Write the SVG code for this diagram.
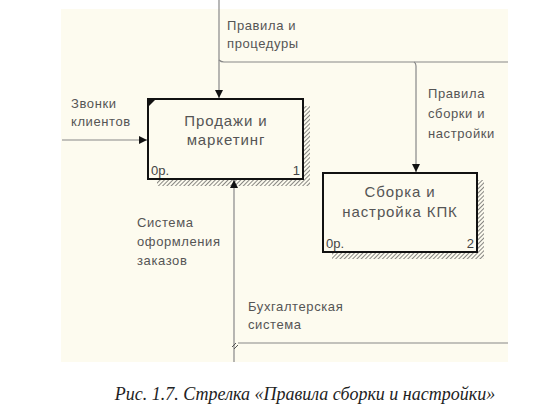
<svg xmlns="http://www.w3.org/2000/svg" width="560" height="415" viewBox="0 0 560 415">
<defs>
<pattern id="hatch" width="3" height="3" patternUnits="userSpaceOnUse" patternTransform="rotate(45)">
<rect width="3" height="3" fill="#fdfbef"/>
<line x1="0" y1="0" x2="0" y2="3" stroke="#555" stroke-width="1.4"/>
</pattern>
<marker id="arr" viewBox="0 0 8 8" refX="8" refY="4" markerWidth="8" markerHeight="8" markerUnits="userSpaceOnUse" orient="auto">
<path d="M0,0 L8,4 L0,8 Z" fill="#111"/>
</marker>
<style>
.lbl{font-family:"Liberation Sans",Arial,sans-serif;font-size:13px;letter-spacing:0.6px;fill:#555}
.btxt{font-family:"Liberation Sans",Arial,sans-serif;font-size:15px;letter-spacing:0.9px;fill:#555;text-anchor:middle}
.num{font-family:"Liberation Sans",Arial,sans-serif;font-size:13px;fill:#444}
.box{fill:#fdfbef;stroke:#111;stroke-width:2}
.shadow{fill:url(#hatch)}
.con{fill:none;stroke:#888;stroke-width:1.2}
</style>
</defs>
<rect x="0" y="0" width="560" height="415" fill="#ffffff"/>
<rect x="61" y="9" width="447" height="353" fill="#fdfbef"/>

<g id="node1">
<rect class="shadow" x="304" y="106" width="6" height="80"/>
<rect class="shadow" x="157" y="180" width="153" height="6"/>
<rect class="box" x="148" y="99" width="155" height="80"/>
<path d="M149,100 L155,100 L149,106 Z" fill="#111"/>
<text class="btxt" x="226" y="126">Продажи и</text>
<text class="btxt" x="226" y="145">маркетинг</text>
<text class="num" x="151" y="175">0р.</text>
<text class="num" x="300" y="175" text-anchor="end">1</text>
</g>

<g id="node2">
<rect class="shadow" x="478" y="180" width="6" height="79"/>
<rect class="shadow" x="332" y="253" width="152" height="6"/>
<rect class="box" x="323" y="173" width="154" height="79"/>
<text class="btxt" x="400" y="197">Сборка и</text>
<text class="btxt" x="400" y="217">настройка КПК</text>
<text class="num" x="326" y="248">0р.</text>
<text class="num" x="474" y="248" text-anchor="end">2</text>
</g>

<g id="connectors">
<path class="con" d="M219,0 V98" marker-end="url(#arr)"/>
<path class="con" d="M219,60 Q221,62 224,62 H508"/>
<path class="con" d="M414,62 Q416,63 416,66 V172" marker-end="url(#arr)"/>
<path class="con" d="M62,140 H147" marker-end="url(#arr)"/>
<path class="con" d="M234,362 V180" marker-end="url(#arr)"/>
<path class="con" d="M238,343 H508"/>
<path d="M232,347 L236,343 M234,349 L238,345" stroke="#555" stroke-width="1" fill="none"/>
</g>

<g id="labels">
<text class="lbl" x="227" y="30">Правила и</text>
<text class="lbl" x="227" y="48">процедуры</text>
<text class="lbl" x="428" y="98">Правила</text>
<text class="lbl" x="428" y="118">сборки и</text>
<text class="lbl" x="428" y="138">настройки</text>
<text class="lbl" x="71" y="108">Звонки</text>
<text class="lbl" x="71" y="126">клиентов</text>
<text class="lbl" x="137" y="227">Система</text>
<text class="lbl" x="137" y="246">оформления</text>
<text class="lbl" x="137" y="265">заказов</text>
<text class="lbl" x="248" y="311">Бухгалтерская</text>
<text class="lbl" x="248" y="329">система</text>
</g>

<text x="305" y="400" text-anchor="middle" font-family="'Liberation Serif','Times New Roman',serif" font-style="italic" font-size="18" fill="#222">Рис. 1.7. Стрелка «Правила сборки и настройки»</text>
</svg>
